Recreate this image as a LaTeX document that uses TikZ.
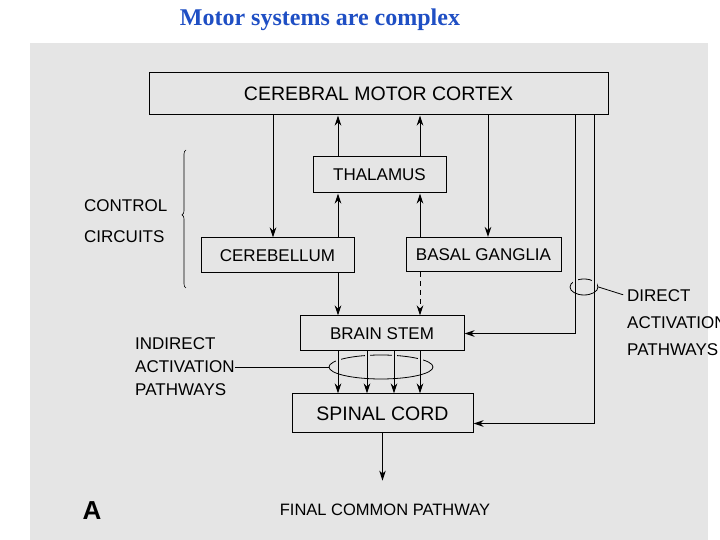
\documentclass[tikz,border=0pt]{standalone}
\usepackage{fontspec}
\setmainfont{Liberation Sans}
\newfontfamily\titlefont{Liberation Serif}
\usepackage{tikz}
\usetikzlibrary{arrows.meta,positioning,calc,shapes.geometric,decorations.pathreplacing}
\definecolor{msBlue}{HTML}{1F4FC4}
\definecolor{msPage}{gray}{0.9}

\begin{document}
\begin{tikzpicture}[
    x=1pt, y=1pt,
    font=\fontsize{17}{20}\selectfont,
    >={Stealth[length=10pt,width=6.5pt,inset=3pt]},
    blk/.style={draw, line width=1pt, inner sep=0pt, minimum width=#1},
    big/.style={font=\fontsize{19.5}{22}\selectfont},
    lbl/.style={anchor=west, inner sep=0pt},
    arr/.style={->, line width=1pt},
    ring/.style={ellipse, draw, line width=0.8pt, inner sep=0pt},
    gap/.style={draw=msPage, line width=5pt},
  ]
  \useasboundingbox (0,0) rectangle (720,540);
  % scanned page
  \fill[msPage] (30,0) rectangle (708,497);
  % title
  \node[font=\titlefont\bfseries\fontsize{24}{28}\selectfont, text=msBlue] (title) at (320,520) {Motor systems are complex};
  % boxes
  \node[blk=459pt, minimum height=42pt, big] (ctx)  at (378.5,446)   {CEREBRAL MOTOR CORTEX};
  \node[blk=133pt, minimum height=36pt]      (thal) at (379.5,365)   {THALAMUS};
  \node[blk=153pt, minimum height=35pt]      (cbl)  at (277.5,284.5) {CEREBELLUM};
  \node[blk=155pt, minimum height=34pt]      (bg)   at (483.5,285.5) {BASAL GANGLIA};
  \node[blk=164pt, minimum height=35pt]      (bst)  at (382,206.5)   {BRAIN STEM};
  \node[blk=181pt, minimum height=39pt, big] (spc)  at (382.5,126.5) {SPINAL CORD};
  % side labels
  \node[lbl] (ctrl1)  at (84,334)  {CONTROL};
  \node[lbl] (ctrl2)  at (84,303)  {CIRCUITS};
  \node[lbl] (indir1) at (135,196) {INDIRECT};
  \node[lbl] (indir2) at (135,173) {ACTIVATION};
  \node[lbl] (indir3) at (135,150) {PATHWAYS};
  \node[lbl] (dir1)   at (627,244) {DIRECT};
  \node[lbl] (dir2)   at (627,217) {ACTIVATION};
  \node[lbl] (dir3)   at (627,190) {PATHWAYS};
  \node[font=\fontsize{16.5}{20}\selectfont] (final) at (385,30) {FINAL COMMON PATHWAY};
  \node[font=\bfseries\fontsize{26}{30}\selectfont] (panel) at (92,29) {A};
  % columns
  \coordinate (cA) at (273,0);
  \coordinate (cB) at (338,0);
  \coordinate (cG) at (367,0);
  \coordinate (cH) at (394,0);
  \coordinate (cC) at (420,0);
  \coordinate (cD) at (488,0);
  \coordinate (cE) at (575,0);
  \coordinate (cF) at (594,0);
  % rings round the pathways
  \node[ring, minimum width=104pt, minimum height=24pt] (ring2) at (381,173) {};
  \node[ring, minimum width=28pt, minimum height=16pt]  (ring1) at (584,253) {};
  \foreach \c in {cB,cG,cH,cC} \draw[gap] (ring2.center -| \c) -- ++(0,14);
  \foreach \c in {cE,cF} \draw[gap] (ring1.center -| \c) -- ++(0,9);
  % control circuits
  \draw[arr] (ctx.south -| cA) -- (cbl.north -| cA);
  \draw[arr] (cbl.north -| cB) -- (thal.south -| cB);
  \draw[arr] (thal.north -| cB) -- (ctx.south -| cB);
  \draw[arr] (bg.north -| cC) -- (thal.south -| cC);
  \draw[arr] (thal.north -| cC) -- (ctx.south -| cC);
  \draw[arr] (ctx.south -| cD) -- (bg.north -| cD);
  % indirect
  \draw[arr] (cbl.south -| cB) -- (bst.north -| cB);
  \draw[arr, dashed, dash pattern=on 5pt off 4pt] (bg.south -| cC) -- (bst.north -| cC);
  \foreach \c in {cB,cG,cH,cC} \draw[arr] (bst.south -| \c) -- (spc.north -| \c);
  % direct
  \draw[arr] (ctx.south -| cE) |- (bst.east);
  \draw[arr] (ctx.south -| cF) |- ([yshift=-10pt]spc.east);
  \draw[arr, shorten >=20pt] (spc.south) -- (spc.south |- final.north);
  % leaders and brace
  \draw[line width=0.8pt] (indir2.east) -- (ring2.west);
  \draw[line width=0.8pt, shorten >=4pt] (ring1.east) -- (dir1.west);
  \draw[decorate, decoration={brace, amplitude=4pt, aspect=0.53}, line width=0.6pt] (186,252) -- (186,390);
\end{tikzpicture}
\end{document}
